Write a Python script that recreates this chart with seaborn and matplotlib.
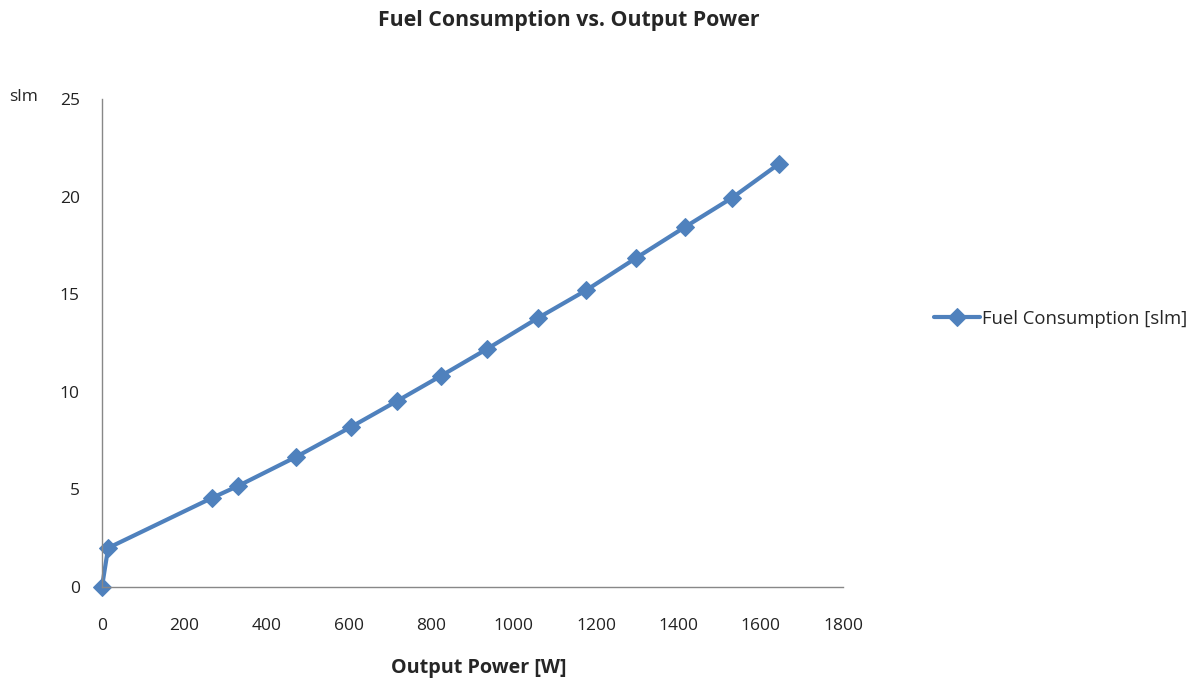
import matplotlib
matplotlib.use("Agg")
import matplotlib.pyplot as plt
import seaborn as sns
import pandas as pd

power_w = [0, 15, 267, 330, 471, 605, 717, 823, 935, 1059, 1176, 1297, 1416, 1530, 1644]
fuel_slm = [0.0, 2.0, 4.56, 5.17, 6.66, 8.2, 9.53, 10.81, 12.19, 13.78, 15.2, 16.85, 18.44, 19.93, 21.67]
x_ticks = [0, 200, 400, 600, 800, 1000, 1200, 1400, 1600, 1800]
y_ticks = [0, 5, 10, 15, 20, 25]
series_name = "Fuel Consumption [slm]"

df = pd.DataFrame({"power": power_w, "fuel": fuel_slm})

sns.set_style("white")
plt.rcParams['font.family'] = ['Open Sans', 'DejaVu Sans']

fig = plt.figure(figsize=(11.94, 6.82), dpi=100)
ax = fig.add_axes([0.0854, 0.1393, 0.6206, 0.7155])

color = "#4F81BD"
sns.lineplot(data=df, x="power", y="fuel", ax=ax, color=color, linewidth=3,
             marker="D", markersize=9, markeredgecolor=color, label=series_name,
             sort=False)

ax.set_xlim(0, 1800)
ax.set_ylim(0, 25)
ax.set_xticks(x_ticks)
ax.set_yticks(y_ticks)
ax.tick_params(axis="both", labelsize=12.5, length=0, colors="#222222")
ax.tick_params(axis="x", pad=22)
ax.tick_params(axis="y", pad=16)
for s in ["top", "right"]:
    ax.spines[s].set_visible(False)
for s in ["left", "bottom"]:
    ax.spines[s].set_color("#888888")
    ax.spines[s].set_linewidth(1)
for line in ax.lines:
    line.set_clip_on(False)

ax.set_xlabel("Output Power [W]", fontsize=14.2, fontweight="bold")
ax.xaxis.set_label_coords(0.509, -0.166)
ax.xaxis.label.set_va("center")
ax.set_ylabel("")
fig.text(0.008, 0.858, "slm", fontsize=12.5, ha="left", va="center")
fig.text(0.476, 0.970, "Fuel Consumption vs. Output Power", fontsize=15.3,
         fontweight="bold", ha="center", va="center")

ax.legend(loc="center left", bbox_to_anchor=(1.1, 0.55), frameon=False,
          fontsize=13.3, handlelength=2.5, handletextpad=0.1)

fig.savefig("out.png", dpi=100)
